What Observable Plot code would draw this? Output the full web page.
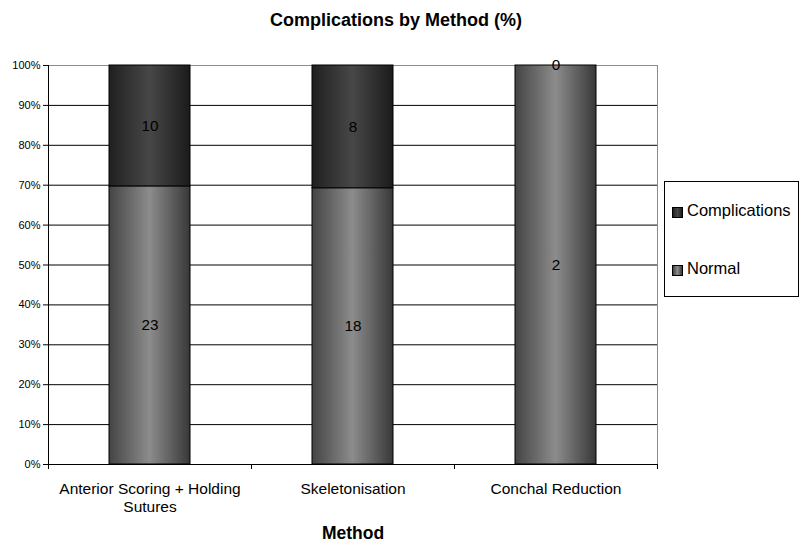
<!DOCTYPE html>
<html>
<head>
<meta charset="utf-8">
<script src="https://cdn.jsdelivr.net/npm/d3@7"></script>
<script src="https://cdn.jsdelivr.net/npm/@observablehq/plot@0.6"></script>
<style>
  html, body { margin: 0; padding: 0; background: #fff; }
  #wrap { position: relative; width: 803px; height: 549px; font-family: "Liberation Sans", Arial, sans-serif; color: #000; }
  #title { height: 40px; box-sizing: border-box; padding-top: 10.5px; line-height: 18px; font-size: 18px; font-weight: bold; width: 792px; text-align: center; }
  #legend { position: absolute; left: 664px; top: 181px; width: 133px; height: 114px; border: 1px solid #000; background: #fff; }
  .sw { position: absolute; width: 9px; height: 9px; border: 1px solid #000; }
  .lt { position: absolute; font-size: 16.5px; line-height: 18.4px; white-space: nowrap; }
  svg { display: block; }
</style>
</head>
<body>
<div id="wrap">
  <div id="title">Complications by Method (%)</div>
  <div id="chart"></div>
  <div id="legend"></div>
</div>
<script>
const categories = ["Anterior Scoring + Holding Sutures", "Skeletonisation", "Conchal Reduction"];
const categoryLabels = ["Anterior Scoring + Holding\nSutures", "Skeletonisation", "Conchal Reduction"];
const series = ["Normal", "Complications"];
const normal = [23, 18, 2];
const complications = [10, 8, 0];
const yTicks = [0, 0.1, 0.2, 0.3, 0.4, 0.5, 0.6, 0.7, 0.8, 0.9, 1];
const legendItems = ["Complications", "Normal"];

const rows = categories.flatMap((c, i) => [
  {method: c, series: "Normal", value: normal[i]},
  {method: c, series: "Complications", value: complications[i]}
]);

const W = 803, H = 509, ML = 48, MR = 146, MT = 25, MB = 85;
const step = (W - ML - MR) / categories.length;
const font = "'Liberation Sans', Arial, sans-serif";

const svg = Plot.plot({
  width: W, height: H,
  marginLeft: ML, marginRight: MR, marginTop: MT, marginBottom: MB,
  style: {fontFamily: font, background: "#fff", color: "#000"},
  x: {type: "band", domain: categories, paddingInner: 0.6, paddingOuter: 0.3, axis: null, label: null},
  y: {domain: [0, 1], axis: null, label: null},
  color: {type: "ordinal", domain: series, range: ["url(#gradNormal)", "url(#gradComp)"]},
  marks: [
    Plot.frame({stroke: "#8c8c8c"}),
    Plot.ruleY(yTicks.filter(t => t > 0 && t < 1), {stroke: "#000", strokeWidth: 1}),
    Plot.barY(rows, Plot.stackY({x: "method", y: "value", fill: "series", offset: "normalize", stroke: "#000", strokeWidth: 1})),
    Plot.text(rows, Plot.stackY({x: "method", y: "value", z: "series", text: d => String(d.value), offset: "normalize", fontSize: 15.3, fill: "#000"})),
    Plot.frame({anchor: "left", stroke: "#000"}),
    Plot.frame({anchor: "bottom", stroke: "#000"}),
    Plot.axisY(yTicks, {tickFormat: d3.format(".0%"), tickSize: 5, tickPadding: 3, fontSize: 11, stroke: "#000", fill: "#000", label: null}),
    Plot.axisX(categories, {tickSize: 5, text: null, dx: -step / 2, stroke: "#000", label: null}),
    Plot.axisX(categories.slice(-1), {tickSize: 5, text: null, dx: step / 2, stroke: "#000", label: null}),
    Plot.text(categories, {x: d => d, text: (d, i) => categoryLabels[i], frameAnchor: "bottom", lineAnchor: "top", dy: 17.3, lineHeight: 1.14, fontSize: 15.5, fill: "#000"}),
    Plot.text(["Method"], {frameAnchor: "bottom", dy: 74, fontSize: 17.5, fontWeight: "bold", fill: "#000"})
  ]
});

const defs = d3.select(svg).insert("defs", ":first-child");
function grad(id, stops) {
  const g = defs.append("linearGradient").attr("id", id).attr("x1", "0").attr("x2", "1").attr("y1", "0").attr("y2", "0");
  stops.forEach(([o, c]) => g.append("stop").attr("offset", o).attr("stop-color", c));
}
grad("gradNormal", [[0, "#444444"], [0.5, "#8c8c8c"], [1, "#383838"]]);
grad("gradComp", [[0, "#202020"], [0.5, "#474747"], [1, "#1b1b1b"]]);

document.getElementById("chart").appendChild(svg);

const legend = document.getElementById("legend");
const swatchCss = {
  Complications: "linear-gradient(to right, #202020, #474747, #1b1b1b)",
  Normal: "linear-gradient(to right, #444444, #8c8c8c, #383838)"
};
const itemTops = [25, 83];
legendItems.forEach((name, i) => {
  const sw = document.createElement("div");
  sw.className = "sw";
  sw.style.left = "7px";
  sw.style.top = itemTops[i] + "px";
  sw.style.background = swatchCss[name];
  legend.appendChild(sw);
  const t = document.createElement("div");
  t.className = "lt";
  t.style.left = "22px";
  t.style.top = (itemTops[i] - 6) + "px";
  t.textContent = name;
  legend.appendChild(t);
});
</script>
</body>
</html>
